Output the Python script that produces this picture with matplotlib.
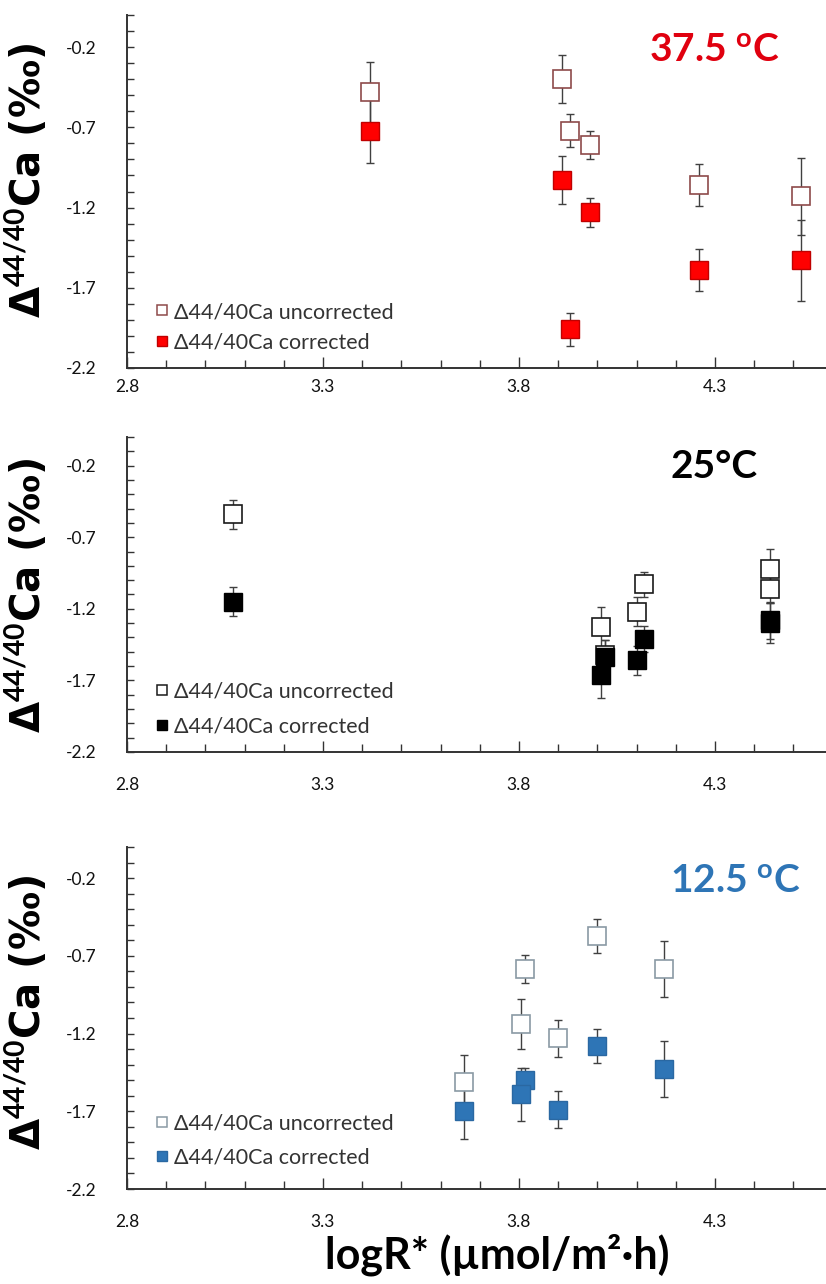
import matplotlib
matplotlib.use("Agg")
import matplotlib.pyplot as plt
from matplotlib.lines import Line2D
from matplotlib.ticker import MultipleLocator, FixedLocator

plt.rcParams['font.family'] = ['Lato', 'DejaVu Sans']
plt.rcParams['mathtext.fontset'] = 'custom'
plt.rcParams['mathtext.rm'] = 'Lato'
plt.rcParams['mathtext.bf'] = 'Lato:bold'

# ---------------- data ----------------
# 37.5 C
x_375 = [3.42, 3.91, 3.93, 3.98, 4.26, 4.52]
unc_375 = [-0.48, -0.40, -0.72, -0.81, -1.06, -1.13]
unc_375_err = [0.19, 0.15, 0.10, 0.09, 0.13, 0.24]
cor_375 = [-0.72, -1.03, -1.96, -1.23, -1.59, -1.53]
cor_375_err = [0.20, 0.15, 0.10, 0.09, 0.13, 0.25]

# 25 C
x_25 = [3.07, 4.01, 4.02, 4.10, 4.12, 4.44, 4.44]
unc_25 = [-0.54, -1.33, -1.52, -1.22, -1.03, -0.92, -1.06]
unc_25_err = [0.10, 0.14, 0.10, 0.10, 0.09, 0.14, 0.10]
x_25c = [3.07, 4.01, 4.02, 4.10, 4.12, 4.44, 4.44]
cor_25 = [-1.15, -1.66, -1.54, -1.56, -1.41, -1.28, -1.30]
cor_25_err = [0.10, 0.16, 0.12, 0.10, 0.09, 0.13, 0.14]

# 12.5 C
x_125 = [3.66, 3.815, 3.805, 3.90, 4.00, 4.17]
unc_125 = [-1.51, -0.785, -1.14, -1.23, -0.57, -0.785]
unc_125_err = [0.17, 0.09, 0.16, 0.12, 0.11, 0.18]
cor_125 = [-1.70, -1.50, -1.59, -1.69, -1.28, -1.43]
cor_125_err = [0.18, 0.08, 0.17, 0.12, 0.11, 0.18]

x_ticks = [2.8, 3.3, 3.8, 4.3]
y_ticks = [-2.2, -1.7, -1.2, -0.7, -0.2]
legend_labels = ['Δ44/40Ca uncorrected', 'Δ44/40Ca corrected']

W, H = 826, 1284
fig = plt.figure(figsize=(W / 100, H / 100), dpi=100)


def rect(l, t, r, b):
    return [l / W, 1 - b / H, (r - l) / W, (b - t) / H]


panels = [
    dict(r=(127, 15, 826, 368), x=x_375, xc=x_375, u=unc_375, ue=unc_375_err,
         c=cor_375, ce=cor_375_err, uedge='#8E4A4A', cface='#FF0000', cedge='#C00000',
         title='37.5 $^{\\mathbf{o}}$C', tcol='#E0000F', tpos=(714, 62),
         xpad=8, ylab=180, leg=327.5, lsp=0.51),
    dict(r=(127, 437, 826, 752), x=x_25, xc=x_25c, u=unc_25, ue=unc_25_err,
         c=cor_25, ce=cor_25_err, uedge='#1A1A1A', cface='#000000', cedge='#000000',
         title='25°C', tcol='#000000', tpos=(714, 478),
         xpad=18, ylab=595, leg=709, lsp=0.67),
    dict(r=(127, 847, 826, 1189), x=x_125, xc=x_125, u=unc_125, ue=unc_125_err,
         c=cor_125, ce=cor_125_err, uedge='#8A9AA4', cface='#2E75B6', cedge='#2A68A2',
         title='12.5 $^{\\mathbf{o}}$C', tcol='#2E75B6', tpos=(735, 893),
         xpad=18, ylab=1012, leg=1140.5, lsp=0.67),
]

errc = '#404040'
for p in panels:
    l, t, r, b = p['r']
    ax = fig.add_axes(rect(l, t, r, b))
    ax.set_xlim(2.8, 2.8 + (r - l) / 392.0)
    ax.set_ylim(-2.2, 0.0)
    for s in ['top', 'right']:
        ax.spines[s].set_visible(False)
    for s in ['left', 'bottom']:
        ax.spines[s].set_color('#333333')
        ax.spines[s].set_linewidth(1.4)

    ax.xaxis.set_major_locator(FixedLocator(x_ticks))
    ax.xaxis.set_minor_locator(MultipleLocator(0.1))
    ax.yaxis.set_major_locator(FixedLocator(y_ticks))
    ax.yaxis.set_minor_locator(MultipleLocator(0.1))
    ax.set_xticklabels([f'{v:.1f}' for v in x_ticks])
    ax.set_yticklabels([f'{v:.1f}' for v in y_ticks])
    ax.tick_params(axis='x', which='major', direction='in', length=8, width=1,
                   color='#333333', labelsize=12.5, pad=p['xpad'], labelcolor='#111111')
    ax.tick_params(axis='x', which='minor', direction='in', length=5.5, width=1, color='#333333')
    ax.tick_params(axis='y', which='major', direction='in', length=5, width=1,
                   color='#333333', labelsize=12.5, pad=22, labelcolor='#111111')
    ax.tick_params(axis='y', which='minor', direction='in', length=5, width=1, color='#333333')

    ax.errorbar(p['x'], p['u'], yerr=p['ue'], fmt='none', ecolor=errc, elinewidth=1,
                capsize=3, capthick=1, zorder=2)
    ax.errorbar(p['xc'], p['c'], yerr=p['ce'], fmt='none', ecolor=errc, elinewidth=1,
                capsize=3, capthick=1, zorder=2)
    ax.plot(p['x'], p['u'], 's', ms=13, mfc='white', mec=p['uedge'], mew=1.2,
            linestyle='none', zorder=3)
    ax.plot(p['xc'], p['c'], 's', ms=13, mfc=p['cface'], mec=p['cedge'], mew=1.0,
            linestyle='none', zorder=4)

    handles = [Line2D([], [], marker='s', ls='none', ms=7.5, mfc='white', mec=p['uedge'], mew=1.1),
               Line2D([], [], marker='s', ls='none', ms=7.5, mfc=p['cface'], mec=p['cedge'], mew=1.0)]
    leg = ax.legend(handles, legend_labels, loc='center left',
                    bbox_to_anchor=((156 - l) / (r - l), (b - p['leg']) / (b - t)),
                    frameon=False, fontsize=15.5, handlelength=0.6, handletextpad=0.25,
                    borderpad=0, borderaxespad=0, labelspacing=p['lsp'])
    for txt in leg.get_texts():
        txt.set_color('#333333')

    fig.text(p['tpos'][0] / W, 1 - p['tpos'][1] / H, p['title'], color=p['tcol'],
             fontsize=28, fontweight='bold', ha='center', va='baseline')

    fig.text(41 / W, 1 - p['ylab'] / H, 'Δ$^{\\mathbf{44/40}}$Ca (‰)', rotation=90,
             rotation_mode='anchor', family=['DejaVu Sans'],
             fontsize=29, fontweight='bold', ha='center', va='baseline', color='#000000')

fig.text(497 / W, 1 - 1269 / H, 'logR* (µmol/m²·h)', fontsize=31, fontweight='bold',
         ha='center', va='baseline', color='#000000')

fig.savefig('out.png', dpi=100)
